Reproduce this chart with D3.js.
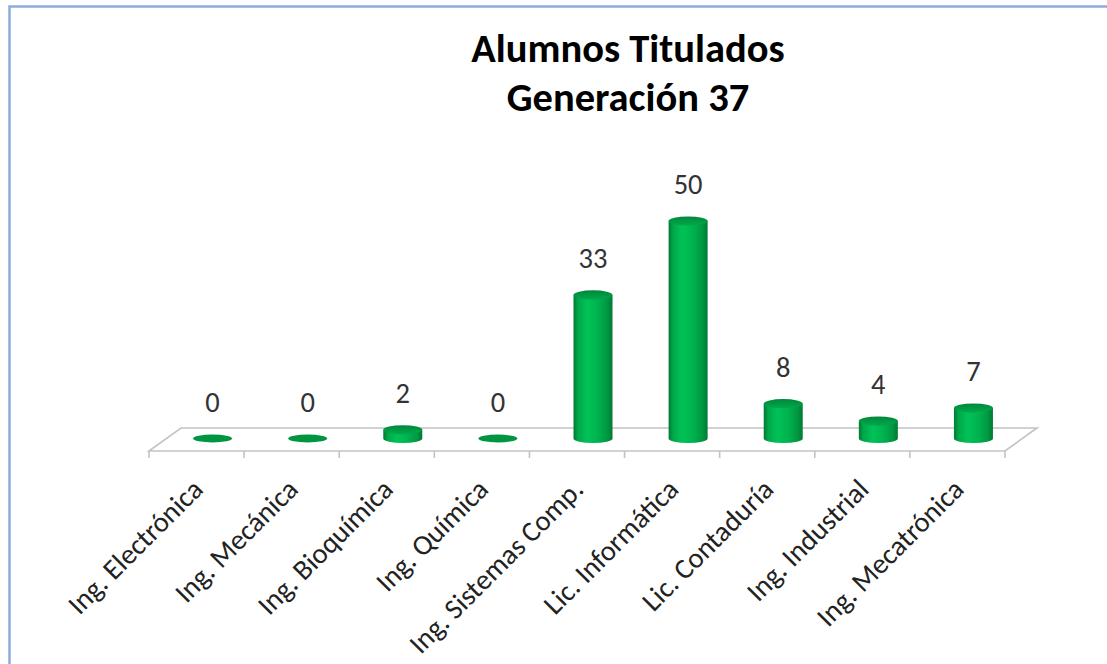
<!DOCTYPE html>
<html>
<head>
<meta charset="utf-8">
<script src="https://cdn.jsdelivr.net/npm/d3@7"></script>
<style>
  html, body { margin: 0; padding: 0; background: #fff; }
  svg { display: block; }
  text { font-family: Carlito, Lato, "Open Sans", sans-serif; }
</style>
</head>
<body>
<svg id="chart" width="1107" height="664"></svg>
<script>
const titleLines = ["Alumnos Titulados", "Generación 37"];
const categories = ["Ing. Electrónica", "Ing. Mecánica", "Ing. Bioquímica", "Ing. Química",
  "Ing. Sistemas Comp.", "Lic. Informática", "Lic. Contaduría", "Ing. Industrial", "Ing. Mecatrónica"];
const values = [0, 0, 2, 0, 33, 50, 8, 4, 7];

const W = 1107, H = 664;
const svg = d3.select("#chart");

// frame
svg.append("rect").attr("x", 9.5).attr("y", 6.5).attr("width", 1110).attr("height", 670)
  .attr("fill", "#fff").attr("stroke", "#8faadc").attr("stroke-width", 2.5);

// geometry
const frontY = 451, depthX = 32, depthY = -23;
const x = d3.scaleBand().domain(categories).range([149, 1005]).padding(0);
const h = d3.scaleLinear().domain([0, 50]).range([0, 217.5]);
const baseY = frontY + depthY / 2 - 1;
const rx = 19.5, ry = 4.6;

const defs = svg.append("defs");
const grad = defs.append("linearGradient").attr("id", "cyl").attr("x1", "0").attr("x2", "1").attr("y1", "0").attr("y2", "0");
[[0, "#007a34"], [0.12, "#00a84a"], [0.35, "#00c257"], [0.6, "#00b450"], [0.85, "#009a42"], [1, "#007a34"]]
  .forEach(([o, c]) => grad.append("stop").attr("offset", o).attr("stop-color", c));
const topGrad = defs.append("linearGradient").attr("id", "cyltop").attr("x1", "0").attr("x2", "0").attr("y1", "0").attr("y2", "1");
[[0, "#00873b"], [1, "#00a94b"]].forEach(([o, c]) => topGrad.append("stop").attr("offset", o).attr("stop-color", c));

// floor
const x0 = x.range()[0], x1 = x.range()[1];
const floor = svg.append("g").attr("fill", "none").attr("stroke", "#c3c3c3").attr("stroke-width", 1.6);
floor.append("path")
  .attr("d", `M${x0},${frontY} L${x0 + depthX},${frontY + depthY} L${x1 + depthX},${frontY + depthY} L${x1},${frontY} Z`)
  .attr("fill", "#fff");
const tickPos = categories.map(c => x(c)).concat([x1]);
floor.selectAll("line.tick").data(tickPos).enter().append("line")
  .attr("x1", d => d).attr("x2", d => d).attr("y1", frontY).attr("y2", frontY + 7);

// bars
const bars = svg.append("g");
categories.forEach((c, i) => {
  const cx = x(c) + x.bandwidth() / 2 + depthX / 2;
  const v = values[i];
  const hh = h(v);
  const g = bars.append("g");
  if (hh > 0) {
    const top = baseY - hh;
    g.append("path")
      .attr("d", `M${cx - rx},${top} L${cx - rx},${baseY} A${rx},${ry} 0 0 0 ${cx + rx},${baseY} L${cx + rx},${top} Z`)
      .attr("fill", "url(#cyl)");
    g.append("ellipse").attr("cx", cx).attr("cy", top).attr("rx", rx).attr("ry", ry)
      .attr("fill", "url(#cyltop)");
  } else {
    g.append("ellipse").attr("cx", cx).attr("cy", baseY).attr("rx", rx).attr("ry", ry * 0.85)
      .attr("fill", "#00953f");
  }
  svg.append("text").attr("x", cx).attr("y", baseY - hh - 27)
    .attr("text-anchor", "middle").attr("font-size", 28.5).attr("fill", "#333")
    .text(v);
});

// axis labels
svg.append("g").selectAll("text").data(categories).enter().append("text")
  .attr("transform", d => `translate(${x(d) + x.bandwidth() / 2 + 8},${frontY + 40}) rotate(-45)`)
  .attr("text-anchor", "end").attr("font-size", 28.5).attr("fill", "#222")
  .text(d => d);

// title
svg.append("g").selectAll("text").data(titleLines).enter().append("text")
  .attr("x", 628).attr("y", (d, i) => 61.5 + i * 49)
  .attr("text-anchor", "middle").attr("font-size", 40.5).attr("font-weight", "bold").attr("fill", "#000")
  .text(d => d);
</script>
</body>
</html>
